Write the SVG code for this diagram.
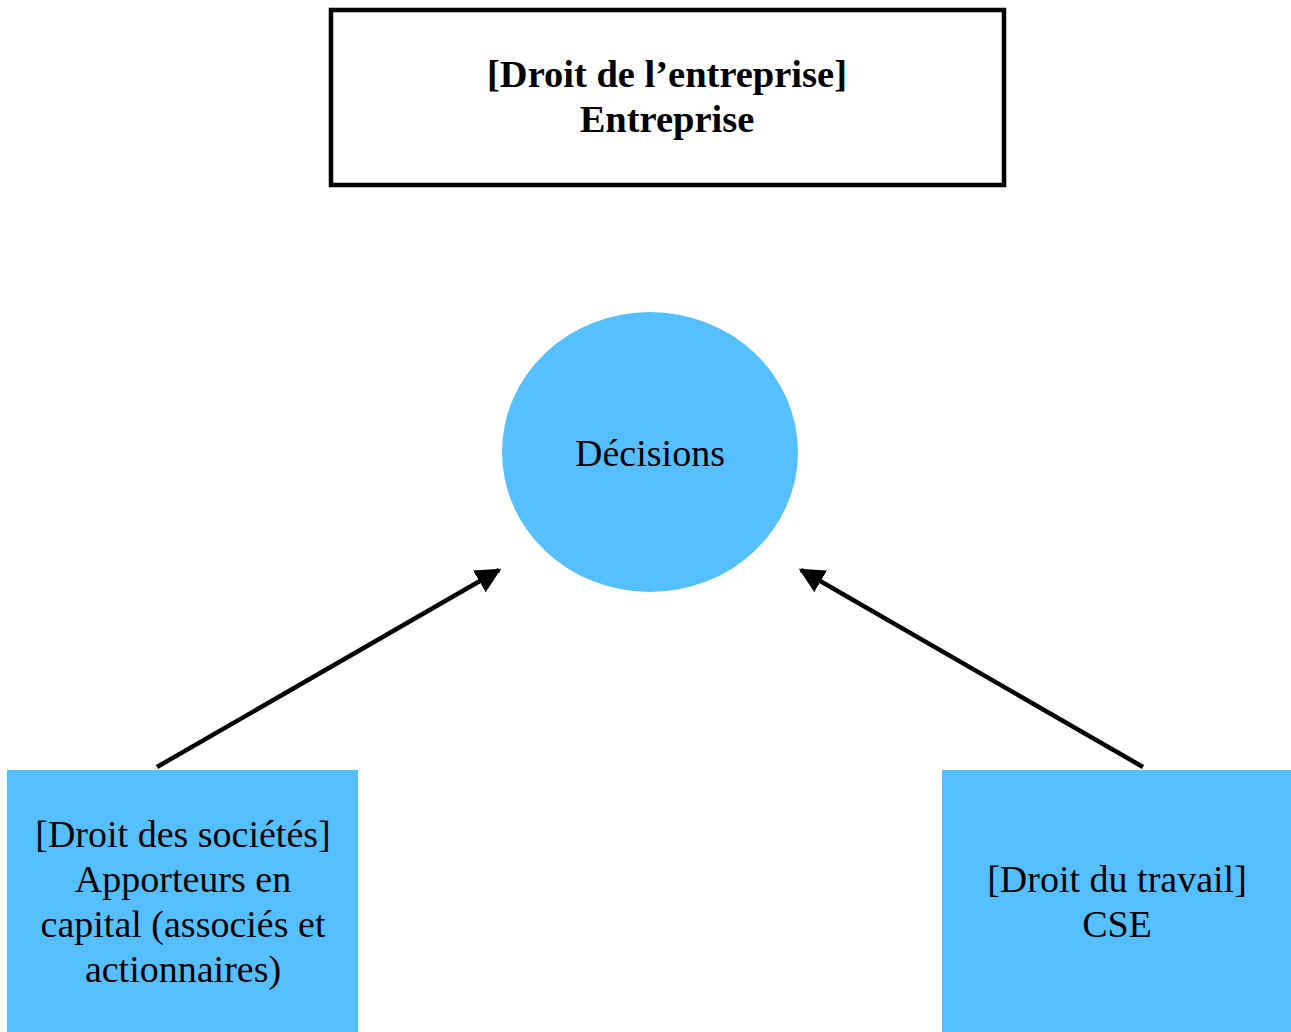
<svg xmlns="http://www.w3.org/2000/svg" width="1291" height="1032" viewBox="0 0 1291 1032">
<style>
text{font-family:"Liberation Serif","Times New Roman",serif;font-size:38px;fill:#000;text-anchor:middle}
.b{font-weight:bold;font-size:38.5px}
.blue{fill:#56BFFF}
.conn{stroke:#000;stroke-width:4.5;fill:none}
</style>
<defs>
<marker id="ah" viewBox="0 0 10 10" refX="9" refY="5" markerWidth="5.6" markerHeight="5.6" orient="auto" markerUnits="strokeWidth">
<path d="M0,0 L10,5 L0,10 z" fill="#000"/>
</marker>
</defs>
<rect width="1291" height="1032" fill="#fff"/>
<g id="entreprise">
<rect x="331" y="10" width="673" height="175" fill="#fff" stroke="#000" stroke-width="4.5"/>
<text class="b" x="667" y="87">[Droit de l’entreprise]</text>
<text class="b" x="667" y="132">Entreprise</text>
</g>
<g id="decisions">
<ellipse class="blue" cx="650" cy="452" rx="148" ry="140"/>
<text x="650" y="466">Décisions</text>
</g>
<g id="societes">
<rect class="blue" x="7" y="770" width="351" height="262"/>
<text x="183" y="847">[Droit des sociétés]</text>
<text x="183" y="892">Apporteurs en</text>
<text x="183" y="937">capital (associés et</text>
<text x="183" y="982">actionnaires)</text>
</g>
<g id="travail">
<rect class="blue" x="942" y="770" width="349" height="262"/>
<text x="1117" y="892">[Droit du travail]</text>
<text x="1117" y="937">CSE</text>
</g>
<g id="connectors">
<line class="conn" x1="157" y1="767" x2="499" y2="570" marker-end="url(#ah)"/>
<line class="conn" x1="1143" y1="767" x2="801" y2="570" marker-end="url(#ah)"/>
</g>
</svg>
